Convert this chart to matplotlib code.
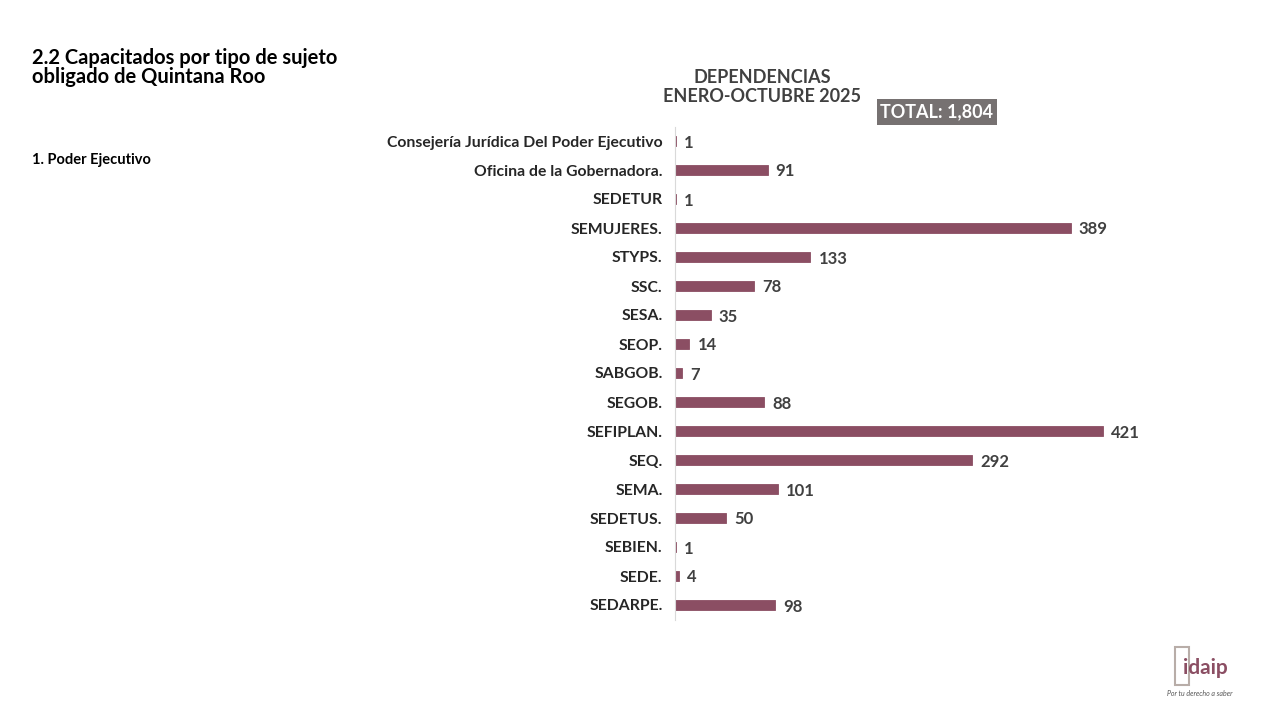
import matplotlib.pyplot as plt
from matplotlib.patches import Rectangle

plt.rcParams['font.family'] = ['Lato', 'DejaVu Sans']

# data
dependencias = ['Consejería Jurídica Del Poder Ejecutivo', 'Oficina de la Gobernadora.',
                'SEDETUR', 'SEMUJERES.', 'STYPS.', 'SSC.', 'SESA.', 'SEOP.', 'SABGOB.',
                'SEGOB.', 'SEFIPLAN.', 'SEQ.', 'SEMA.', 'SEDETUS.', 'SEBIEN.', 'SEDE.',
                'SEDARPE.']
capacitados = [1, 91, 1, 389, 133, 78, 35, 14, 7, 88, 421, 292, 101, 50, 1, 4, 98]
total_txt = 'TOTAL: 1,804'

bar_color = '#8B4E63'

fig = plt.figure(figsize=(12.8, 7.2), dpi=100)
ax = fig.add_axes([675/1280, 1 - 619.5/720, 505/1280, 493/720])

y = range(len(dependencias))
ax.barh(y, capacitados, height=0.36, color=bar_color, edgecolor=bar_color, linewidth=0.6)
ax.set_xlim(0, 496.6)
ax.set_ylim(len(dependencias) - 0.5, -0.5)
ax.set_yticks(list(y))
ax.set_yticklabels(dependencias, fontsize=11.3, fontweight='bold', color='#262626')
ax.tick_params(axis='y', length=0, pad=9)
ax.set_xticks([])
for s in ['top', 'right', 'bottom']:
    ax.spines[s].set_visible(False)
ax.spines['left'].set_color('#D9D9D9')

for i, v in enumerate(capacitados):
    ax.text(v + 8, i, str(v), va='center_baseline', ha='left', fontsize=12,
            fontweight='bold', color='#404040')

# titles
fig.text(32/1280, 1 - 48/720, '2.2 Capacitados por tipo de sujeto\nobligado de Quintana Roo',
         fontsize=14.5, fontweight='bold', color='#000000', va='top', ha='left', linespacing=0.95)
fig.text(32/1280, 1 - 160/720, '1. Poder Ejecutivo', fontsize=10.5, fontweight='bold',
         color='#000000', va='center', ha='left')
fig.text(762/1280, 1 - 87/720, 'DEPENDENCIAS\nENERO-OCTUBRE 2025', fontsize=13,
         fontweight='bold', color='#404040', va='center', ha='center', linespacing=1.1)

fig.patches.append(Rectangle((877/1280, 1 - 125/720), 120/1280, 26/720,
                             transform=fig.transFigure, facecolor='#767171',
                             edgecolor='none'))
fig.text(937/1280, 1 - 112/720, total_txt, fontsize=13, fontweight='bold',
         color='white', va='center', ha='center')

# logo
fig.patches.append(Rectangle((1175/1280, 1 - 685/720), 14/1280, 38/720,
                             transform=fig.transFigure, facecolor='none',
                             edgecolor='#B8ADA8', lw=1.5))
fig.text(1205/1280, 1 - 668/720, 'idaip', fontsize=15, fontweight='bold',
         color='#8B4E63', va='center', ha='center')
fig.text(1200/1280, 1 - 694/720, 'Por tu derecho a saber', fontsize=5,
         style='italic', color='#555555', va='center', ha='center')

fig.savefig('out.png', dpi=100)
